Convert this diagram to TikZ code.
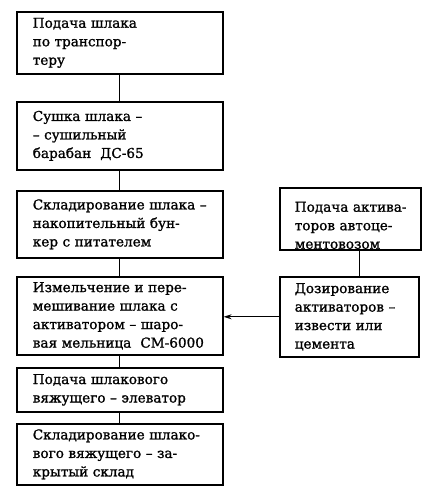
\documentclass[tikz,border=0pt]{standalone}
\usepackage{fontspec}
\newfontfamily\boxfont{DejaVu Serif}[FakeBold=1.2]
\usetikzlibrary{arrows.meta}
\tikzset{
  box/.style={draw, line width=1.6pt, anchor=north west, align=left,
    inner xsep=16pt, inner ysep=0pt,
    font=\boxfont\fontsize{13.6}{18.5}\selectfont},
  lbox/.style={box, text width=174pt, minimum width=206pt},
  link/.style={line width=1.2pt},
  feed/.style={line width=1.2pt, -{Stealth[length=8pt,width=5pt]}}
}
\begin{document}
\begin{tikzpicture}[x=1pt,y=-1pt]
\useasboundingbox (0,0) rectangle (424,493);
\node[lbox, minimum height=62pt] (b1) at (16,11) {\mbox{Подача шлака}\\\mbox{по транспор-}\\\mbox{теру}};
\node[lbox, minimum height=68pt] (b2) at (16,101) {\mbox{Сушка шлака –}\\\mbox{– сушильный}\\\mbox{барабан~~ДС-65}};
\node[lbox, minimum height=67pt] (b3) at (16,190) {\mbox{Складирование шлака –}\\\mbox{накопительный бун-}\\\mbox{кер с питателем}};
\node[lbox, minimum height=78pt] (b4) at (16,276) {\mbox{Измельчение и пере-}\\\mbox{мешивание шлака с}\\\mbox{активатором – шаро-}\\\mbox{вая мельница~~СМ-6000}};
\node[lbox, minimum height=44pt] (b5) at (16,367) {\mbox{Подача шлакового}\\\mbox{вяжущего – элеватор}};
\node[lbox, minimum height=61pt] (b6) at (16,423) {\mbox{Складирование шлако-}\\\mbox{вого вяжущего – за-}\\\mbox{крытый склад}};
\node[box, inner xsep=15pt, text width=111pt, minimum width=141pt, minimum height=62pt, text height=23pt] (ra) at (279,187) {\mbox{Подача актива-}\\\mbox{торов автоце-}\\\mbox{ментовозом}};
\node[box, inner xsep=15pt, text width=109pt, minimum width=139pt, minimum height=80pt] (rb) at (279,276) {\mbox{Дозирование}\\\mbox{активаторов –}\\\mbox{извести или}\\\mbox{цемента}};
\draw[link] (b1.south) -- (b2.north);
\draw[link] (b2.south) -- (b3.north);
\draw[link] (b3.south) -- (b4.north);
\draw[link] (b4.south) -- (b5.north);
\draw[link] (b5.south) -- (b6.north);
\draw[link] ([xshift=9pt]ra.south) -- ([xshift=9pt]ra.south |- rb.north);
\draw[feed] (rb.west) -- (rb.west -| b4.east);
\end{tikzpicture}
\end{document}
